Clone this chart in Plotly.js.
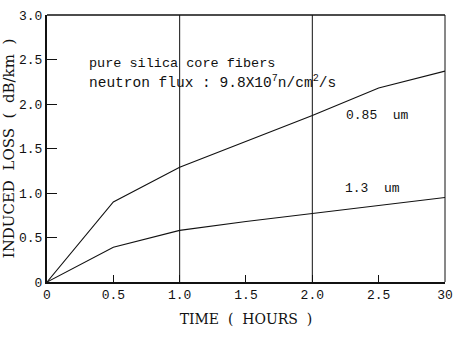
<!DOCTYPE html>
<html><head><meta charset="utf-8">
<script src="https://cdn.plot.ly/plotly-3.0.1.min.js"></script>
<style>body{margin:0;background:#fff}#c{width:454px;height:342px}</style>
</head><body><div id="c"></div>
<script>
var timeHours = [0, 0.5, 1.0, 1.5, 2.0, 2.5, 3.0];
var loss085 = [0, 0.90, 1.29, 1.58, 1.87, 2.18, 2.37];
var loss13 = [0, 0.39, 0.58, 0.68, 0.77, 0.86, 0.95];
var xTickVals = [0, 0.5, 1.0, 1.5, 2.0, 2.5, 3.0];
var xTickText = ['0', '0.5', '1.0', '1.5', '2.0', '2.5', '30'];
var yTickVals = [0, 0.5, 1.0, 1.5, 2.0, 2.5, 3.0];
var yTickText = ['0', '0.5', '1.0', '1.5', '2.0', '2.5', '3.0'];
var gridTimes = [1.0, 2.0];

var F = 'Liberation Mono, DejaVu Sans Mono, monospace';
var S = 'DejaVu Serif, Liberation Serif, serif';

var traces = [
  {x: timeHours, y: loss085, mode: 'lines', line: {color: '#111', width: 1.1}, hoverinfo: 'none'},
  {x: timeHours, y: loss13, mode: 'lines', line: {color: '#111', width: 1.1}, hoverinfo: 'none'}
];

var shapes = gridTimes.map(function(t){
  return {type: 'line', xref: 'x', yref: 'paper', x0: t, x1: t, y0: 0, y1: 1, line: {color: '#111', width: 1}};
});
shapes.push({type: 'line', xref: 'paper', yref: 'paper', x0: 0, x1: 1, y0: 1, y1: 1, line: {color: '#111', width: 1.3}});
shapes.push({type: 'line', xref: 'paper', yref: 'paper', x0: 1, x1: 1, y0: 0, y1: 1, line: {color: '#111', width: 1}});

var layout = {
  width: 454, height: 342,
  margin: {l: 47, r: 9, t: 15, b: 60},
  paper_bgcolor: '#fff', plot_bgcolor: '#fff',
  showlegend: false,
  font: {family: F, color: '#111', size: 13},
  xaxis: {
    range: [0, 3.0001], tickvals: xTickVals, ticktext: xTickText,
    ticks: 'inside', ticklen: 7, tickcolor: '#111', tickwidth: 1,
    ticklabeloverflow: 'allow',
    showgrid: false, zeroline: false, showline: true, linecolor: '#111', linewidth: 1.6,
    tickfont: {family: F, size: 13, color: '#111'},
    title: {text: 'TIME  (  HOURS  )', font: {family: S, size: 14, color: '#111'}, standoff: 12}
  },
  yaxis: {
    range: [0, 3.0], tickvals: yTickVals, ticktext: yTickText,
    ticks: 'inside', ticklen: 10, tickcolor: '#111', tickwidth: 1,
    showgrid: false, zeroline: false, showline: true, linecolor: '#111', linewidth: 2,
    tickfont: {family: F, size: 13, color: '#111'},
    title: {text: 'INDUCED  LOSS  (  dB/km  )', font: {family: S, size: 15, color: '#111'}, standoff: 2}
  },
  shapes: shapes,
  annotations: [
    {xref: 'paper', yref: 'y', x: 0.1, y: 2.45, text: 'pure silica core fibers', showarrow: false, xanchor: 'left', font: {family: F, size: 13.5, color: '#111'}},
    {xref: 'paper', yref: 'y', x: 0.1, y: 2.25, text: 'neutron flux : 9.8X10<sup>7</sup>n/cm<sup>2</sup>/s', showarrow: false, xanchor: 'left', font: {family: F, size: 14.5, color: '#111'}},
    {xref: 'x', yref: 'y', x: 2.24, y: 1.87, text: '0.85  um', showarrow: false, xanchor: 'left', font: {family: F, size: 13, color: '#111'}},
    {xref: 'x', yref: 'y', x: 2.23, y: 1.05, text: '1.3  um', showarrow: false, xanchor: 'left', font: {family: F, size: 13, color: '#111'}}
  ]
};
Plotly.newPlot('c', traces, layout, {staticPlot: true, displayModeBar: false});
</script></body></html>
